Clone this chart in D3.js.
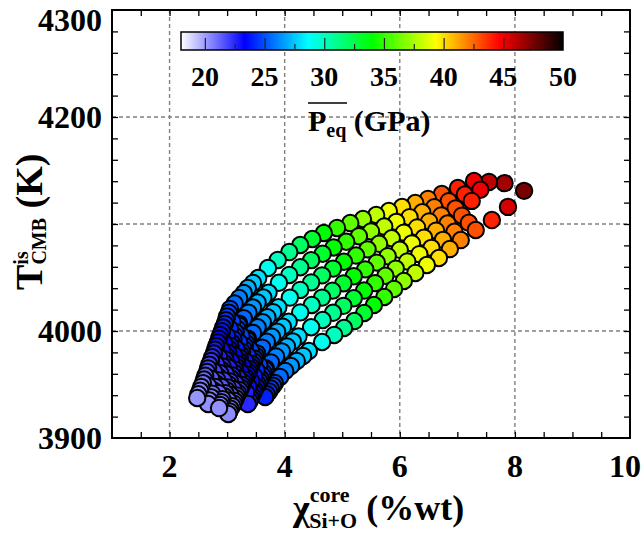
<!DOCTYPE html>
<html><head><meta charset="utf-8">
<script src="https://cdn.jsdelivr.net/npm/d3@7"></script>
<style>
body{margin:0;background:#fff}
svg{display:block}
</style>
</head><body>
<svg id="c" width="643" height="533"></svg>
<script>
// ---------- data ----------
const xTickLabels = [2, 4, 6, 8, 10];
const yTickLabels = [3900, 4000, 4200, 4300];
const xGridValues = [2, 4, 6, 8];
const yGridValues = [4000, 4100, 4200];
const cbTickLabels = [20, 25, 30, 35, 40, 45, 50];
const cbStops = [18, 23.33, 28.67, 34, 39.33, 44.67, 50];
const cbColors = ["#ffffff", "#0000ff", "#00ffff", "#00ff00", "#ffff00", "#ff0000", "#000000"];

// each entry: [x (%wt), T (K), Peq (GPa)]
const strand0 = [[2.48,3937.4,20.2],[2.50,3940.9,20.4],[2.53,3944.3,20.6],[2.55,3947.8,20.8],[2.58,3951.3,21.0],[2.60,3954.7,21.2],[2.62,3958.2,21.4],[2.65,3961.7,21.6],[2.67,3965.1,21.8],[2.69,3968.6,22.0],[2.72,3972.1,22.2],[2.74,3975.5,22.4],[2.77,3979.0,22.6],[2.79,3982.5,22.8],[2.81,3985.9,23.0],[2.84,3989.4,23.2],[2.86,3992.9,23.4],[2.88,3996.3,23.6],[2.91,3999.8,23.8],[2.93,4003.3,24.0],[2.96,4006.7,24.2],[2.98,4010.2,24.4],[3.00,4013.7,24.6],[3.03,4017.1,24.8],
 [3.05,4020.6,25],[3.13,4025.7,25.5],[3.21,4030.8,26],[3.29,4035.5,26.5],[3.36,4040.2,27],[3.45,4044.9,27.5],[3.54,4049.5,28],[3.71,4058.9,29],[3.88,4066.4,30],[4.08,4073.8,31],[4.27,4080.4,32],[4.48,4086.0,33],[4.68,4091.6,34],[4.91,4096.3,35],[5.14,4100.9,36],[5.36,4104.7,37],[5.59,4108.4,38],[5.81,4112.1,39],[6.04,4115.9,40],[6.27,4119.6,41],[6.49,4123.4,42],[6.73,4128.0,43],[7.01,4133.6,44],[7.29,4140.2,45],[7.55,4139.3,46],[7.82,4138.2,46.6]];
const strand1 = [[2.67,3931.8,20.3],[2.69,3935.0,20.5],[2.72,3938.2,20.7],[2.74,3941.4,20.9],[2.76,3944.6,21.1],[2.79,3947.8,21.3],[2.81,3950.9,21.5],[2.83,3954.1,21.7],[2.85,3957.3,21.9],[2.88,3960.5,22.1],[2.90,3963.7,22.3],[2.92,3966.9,22.5],[2.95,3970.1,22.7],[2.97,3973.3,22.9],[2.99,3976.5,23.1],[3.02,3979.7,23.3],[3.04,3982.9,23.5],[3.06,3986.0,23.7],[3.08,3989.2,23.9],[3.11,3992.4,24.1],[3.13,3995.6,24.3],[3.15,3998.8,24.5],[3.18,4002.0,24.7],[3.20,4005.2,24.9],
 [3.21,4006.8,25],[3.29,4012.0,25.5],[3.37,4017.2,26],[3.45,4021.9,26.5],[3.53,4026.6,27],[3.63,4031.3,27.5],[3.72,4035.9,28],[3.90,4045.1,29],[4.08,4052.4,30],[4.27,4059.6,31],[4.46,4066.2,32],[4.66,4072.2,33],[4.85,4078.1,34],[5.07,4083.4,35],[5.29,4088.6,36],[5.50,4093.1,37],[5.73,4097.6,38],[5.94,4102.0,39],[6.17,4106.4,40],[6.39,4111.0,41],[6.60,4115.7,42],[6.85,4121.3,43],[7.13,4127.6,44],[7.40,4132.0,45]];
const strand2 = [[2.86,3928.0,20.3],[2.88,3930.8,20.5],[2.90,3933.5,20.7],[2.92,3936.3,20.9],[2.95,3939.0,21.1],[2.97,3941.8,21.3],[2.99,3944.6,21.5],[3.01,3947.3,21.7],[3.03,3950.1,21.9],[3.05,3952.9,22.1],[3.07,3955.6,22.3],[3.09,3958.4,22.5],[3.12,3961.1,22.7],[3.14,3963.9,22.9],[3.16,3966.7,23.1],[3.18,3969.4,23.3],[3.20,3972.2,23.5],[3.22,3975.0,23.7],[3.24,3977.7,23.9],[3.26,3980.5,24.1],[3.29,3983.2,24.3],[3.31,3986.0,24.5],[3.33,3988.8,24.7],[3.35,3991.5,24.9],
 [3.36,3992.9,25],[3.45,3998.2,25.5],[3.53,4003.5,26],[3.62,4008.2,26.5],[3.70,4012.9,27],[3.80,4017.6,27.5],[3.89,4022.2,28],[4.09,4031.2,29],[4.27,4038.4,30],[4.46,4045.4,31],[4.65,4052.0,32],[4.84,4058.3,33],[5.03,4064.7,34],[5.24,4070.5,35],[5.44,4076.3,36],[5.64,4081.5,37],[5.86,4086.7,38],[6.07,4091.9,39],[6.30,4096.8,40],[6.51,4102.4,41],[6.72,4108.0,42],[6.97,4114.6,43],[7.25,4121.6,44]];
const strand3 = [[3.02,3922.4,20.4],[3.04,3924.9,20.6],[3.06,3927.3,20.8],[3.09,3929.8,21.0],[3.11,3932.3,21.2],[3.13,3934.7,21.4],[3.15,3937.2,21.6],[3.17,3939.7,21.8],[3.19,3942.1,22.0],[3.22,3944.6,22.2],[3.24,3947.1,22.4],[3.26,3949.5,22.6],[3.28,3952.0,22.8],[3.30,3954.5,23.0],[3.32,3956.9,23.2],[3.35,3959.4,23.4],[3.37,3961.9,23.6],[3.39,3964.3,23.8],[3.41,3966.8,24.0],[3.43,3969.3,24.2],[3.46,3971.7,24.4],[3.48,3974.2,24.6],[3.50,3976.7,24.8],
 [3.52,3979.1,25],[3.61,3984.5,25.5],[3.69,3989.9,26],[3.78,3994.6,26.5],[3.87,3999.3,27],[3.97,4004.0,27.5],[4.07,4008.6,28],[4.27,4017.4,29],[4.47,4024.3,30],[4.65,4031.2,31],[4.83,4037.7,32],[5.02,4044.5,33],[5.20,4051.2,34],[5.40,4057.6,35],[5.60,4063.9,36],[5.79,4069.9,37],[6.00,4075.9,38],[6.21,4081.9,39],[6.42,4087.3,40],[6.63,4093.8,41],[6.83,4100.4,42],[7.08,4107.8,43]];
const strand4 = [[3.36,3931.8,22.5],[3.39,3934.5,22.7],[3.41,3937.1,22.9],[3.43,3939.8,23.1],[3.46,3942.5,23.3],[3.48,3945.2,23.5],[3.51,3947.8,23.7],[3.53,3950.5,23.9],[3.56,3953.2,24.1],[3.58,3955.8,24.3],[3.61,3958.5,24.5],[3.63,3961.2,24.7],[3.66,3963.9,24.9],
 [3.67,3965.2,25],[3.76,3970.7,25.5],[3.85,3976.2,26],[3.95,3980.9,26.5],[4.04,3985.6,27],[4.14,3990.3,27.5],[4.24,3994.9,28],[4.46,4003.5,29],[4.66,4010.3,30],[4.84,4017.0,31],[5.02,4023.5,32],[5.20,4030.6,33],[5.38,4037.8,34],[5.57,4044.7,35],[5.75,4051.6,36],[5.93,4058.3,37],[6.13,4065.0,38],[6.34,4071.8,39],[6.55,4077.7,40],[6.75,4085.2,41],[6.95,4092.7,42],[7.20,4101.1,43]];
const strand5 = [[3.66,3938.3,24.0],[3.69,3940.9,24.2],[3.73,3943.5,24.4],[3.76,3946.2,24.6],[3.80,3948.8,24.8],
 [3.83,3951.4,25],[3.92,3957.0,25.5],[4.01,3962.6,26],[4.11,3967.3,26.5],[4.21,3972.0,27],[4.32,3976.7,27.5],[4.42,3981.3,28],[4.65,3989.7,29],[4.86,3996.3,30],[5.03,4002.8,31],[5.21,4009.3,32],[5.38,4016.8,33],[5.55,4024.3,34],[5.73,4031.8,35],[5.90,4039.3,36],[6.07,4046.7,37],[6.27,4054.2,38],[6.47,4061.7,39],[6.68,4068.2,40],[6.87,4076.6,41],[7.06,4085.0,42],[7.32,4094.4,43],[7.60,4103.7,44],[7.88,4116.0,45.5]];
// short low-pressure strands packed between the main ones (dark overlapping mass)
const strandA = [[2.67,3948.8,21.1],[2.72,3955.5,21.5],[2.77,3962.1,21.9],[2.81,3968.8,22.3],[2.86,3975.4,22.7],[2.91,3982.1,23.1],[2.95,3988.7,23.5],[3.00,3995.4,23.9],[3.05,4002.1,24.3],[3.09,4008.7,24.7]];
const strandB = [[2.85,3941.8,21.1],[2.90,3947.8,21.5],[2.94,3953.7,21.9],[2.98,3959.7,22.3],[3.03,3965.6,22.7],[3.07,3971.6,23.1],[3.12,3977.5,23.5],[3.16,3983.5,23.9],[3.21,3989.4,24.3],[3.25,3995.4,24.7]];
const strandC = [[3.02,3935.0,21.1],[3.06,3940.2,21.5],[3.11,3945.5,21.9],[3.15,3950.7,22.3],[3.19,3955.9,22.7],[3.24,3961.1,23.1],[3.28,3966.4,23.5],[3.32,3971.6,23.9],[3.36,3976.8,24.3],[3.41,3982.0,24.7]];
const strandD = [[3.33,3942.6,22.7],[3.37,3947.8,23.1],[3.42,3952.9,23.5],[3.47,3958.0,23.9],[3.51,3963.2,24.3],[3.56,3968.3,24.7]];
const extraPoints = [[8.16,4131.0,47.5]];

// ---------- drawing ----------
const FONT = "Liberation Serif";
const svg = d3.select("#c");
const L = 112, R = 630, T = 10, B = 438;
const x = d3.scaleLinear().domain([1, 10]).range([L, R]);
const y = d3.scaleLinear().domain([3900, 4300]).range([B, T]);
const color = d3.scaleLinear().domain(cbStops).range(cbColors).interpolate(d3.interpolateRgb).clamp(true);

function txt(sel) { return sel.attr("font-family", FONT).attr("font-weight", "bold").attr("fill", "#000"); }

// grid
const grid = svg.append("g").attr("stroke", "#808080").attr("stroke-width", 1.4).attr("stroke-dasharray", "4,3");
grid.selectAll("line.gx").data(xGridValues).join("line")
  .attr("x1", d => x(d)).attr("x2", d => x(d)).attr("y1", T).attr("y2", B);
grid.selectAll("line.gy").data(yGridValues).join("line")
  .attr("y1", d => y(d)).attr("y2", d => y(d)).attr("x1", L).attr("x2", R);

// colorbar
const cb = d3.scaleLinear().domain([18, 50]).range([181, 563]);
const defs = svg.append("defs");
const grad = defs.append("linearGradient").attr("id", "cbg").attr("x1", "0%").attr("x2", "100%");
grad.selectAll("stop").data(cbStops).join("stop")
  .attr("offset", d => ((d - 18) / 32 * 100) + "%")
  .attr("stop-color", (d, i) => cbColors[i]);
svg.append("rect").attr("x", cb(18)).attr("y", 32).attr("width", cb(50) - cb(18)).attr("height", 18)
  .attr("fill", "url(#cbg)").attr("stroke", "#000").attr("stroke-width", 1.5);
const cbAxis = d3.axisTop(cb).tickValues(d3.range(20, 50, 2.5)).tickSize(0).tickFormat("");
const cbMinor = svg.append("g").attr("transform", "translate(0,50)").call(cbAxis);
cbMinor.select(".domain").remove();
cbMinor.selectAll(".tick line").attr("y2", d => (d % 5 === 0 ? -12 : -6)).attr("stroke", "#222").attr("stroke-width", 1.2);
svg.append("g").selectAll("text").data(cbTickLabels).join("text").call(txt)
  .attr("x", d => cb(d)).attr("y", 86).attr("text-anchor", "middle").attr("font-size", 28).text(d => d);
// colorbar title
const cbt = svg.append("text").call(txt).attr("x", 308).attr("y", 131).attr("font-size", 30);
cbt.append("tspan").text("P");
cbt.append("tspan").attr("font-size", 20).attr("dy", 6).text("eq");
cbt.append("tspan").attr("dy", -6).text(" (GPa)");
svg.append("line").attr("x1", 308).attr("x2", 347).attr("y1", 103).attr("y2", 103).attr("stroke", "#000").attr("stroke-width", 1.5);

// points (higher pressure drawn first, lower on top)
const allPts = [].concat(strand0, strand1, strand2, strand3, strand4, strand5, strandA, strandB, strandC, strandD, extraPoints)
  .slice().sort((a, b) => b[2] - a[2]);
svg.append("g").selectAll("circle").data(allPts).join("circle")
  .attr("cx", d => x(d[0])).attr("cy", d => y(d[1])).attr("r", 8.2)
  .attr("fill", d => color(d[2])).attr("stroke", "#000").attr("stroke-width", 2);

// axes ticks (inward, all four sides)
function styleAxis(g) {
  g.select(".domain").remove();
  g.selectAll(".tick line").attr("stroke", "#000").attr("stroke-width", 1.3);
}
const xMinor = d3.range(1.5, 10, 0.5);
const yMinor = d3.range(3920, 4300, 20);
svg.append("g").attr("transform", `translate(0,${B})`)
  .call(d3.axisBottom(x).tickValues(xMinor).tickSize(-6).tickFormat("")).call(styleAxis);
svg.append("g").attr("transform", `translate(0,${T})`)
  .call(d3.axisTop(x).tickValues(xMinor).tickSize(-6).tickFormat("")).call(styleAxis);
svg.append("g").attr("transform", `translate(${L},0)`)
  .call(d3.axisLeft(y).tickValues(yMinor).tickSize(-6).tickFormat("")).call(styleAxis);
svg.append("g").attr("transform", `translate(${R},0)`)
  .call(d3.axisRight(y).tickValues(yMinor).tickSize(-6).tickFormat("")).call(styleAxis);

// frame
svg.append("rect").attr("x", L).attr("y", T).attr("width", R - L).attr("height", B - T)
  .attr("fill", "none").attr("stroke", "#000").attr("stroke-width", 2);

// tick labels
svg.append("g").selectAll("text").data(yTickLabels).join("text").call(txt)
  .attr("x", 102).attr("y", d => Math.max(y(d) + 11, 31)).attr("text-anchor", "end").attr("font-size", 32).text(d => d);
svg.append("g").selectAll("text").data(xTickLabels).join("text").call(txt)
  .attr("x", d => Math.min(x(d), 625)).attr("y", 477).attr("text-anchor", "middle").attr("font-size", 32).text(d => d);

// axis titles
const yt = svg.append("text").call(txt).attr("transform", "translate(42,290) rotate(-90)").attr("font-size", 38);
yt.append("tspan").text("T");
yt.append("tspan").attr("font-size", 20).attr("dy", -14).text("is");
yt.append("tspan").attr("font-size", 20).attr("dx", -13.3).attr("dy", 18).text("CMB");
yt.append("tspan").attr("dy", -4).text(" (K)");

const xt = svg.append("text").call(txt).attr("x", 293).attr("y", 520).attr("font-size", 36);
xt.append("tspan").text("χ");
xt.append("tspan").attr("font-size", 22).attr("dy", -18).text("core");
xt.append("tspan").attr("font-size", 22).attr("dx", -40.3).attr("dy", 26).text("Si+O");
xt.append("tspan").attr("dy", -8).text(" (%wt)");
</script>
</body></html>
